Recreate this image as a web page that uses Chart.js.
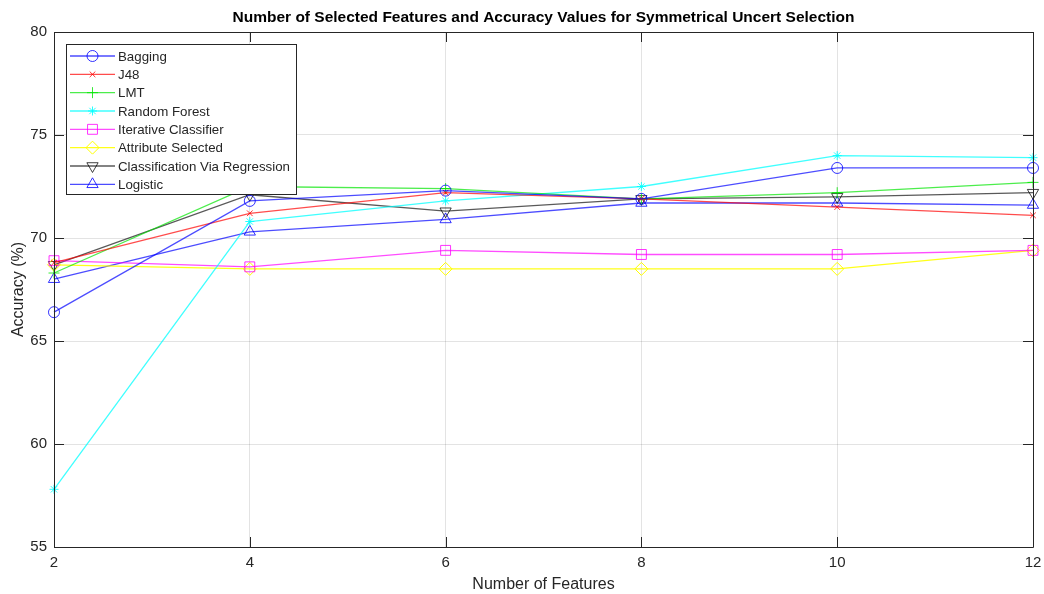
<!DOCTYPE html>
<html>
<head>
<meta charset="utf-8">
<script src="https://cdn.jsdelivr.net/npm/chart.js@4.4.1/dist/chart.umd.min.js"></script>
<style>
html,body{margin:0;padding:0;background:#fff;}
#wrap{width:1044px;height:594px;position:relative;}
</style>
</head>
<body>
<div id="wrap"><canvas id="c" width="1044" height="594"></canvas></div>
<script>
// ---- data ----
const features = [2, 4, 6, 8, 10, 12];
const xTicks = [2, 4, 6, 8, 10, 12];
const yTicks = [55, 60, 65, 70, 75, 80];
const bagging     = [66.4, 71.8, 72.3, 71.9, 73.4, 73.4];
const j48         = [68.8, 71.2, 72.2, 71.9, 71.5, 71.1];
const lmt         = [68.3, 72.5, 72.4, 71.9, 72.2, 72.7];
const randomForest= [57.8, 70.8, 71.8, 72.5, 74.0, 73.9];
const iterative   = [68.9, 68.6, 69.4, 69.2, 69.2, 69.4];
const attribute   = [68.7, 68.5, 68.5, 68.5, 68.5, 69.4];
const cvr         = [68.7, 72.1, 71.3, 71.9, 72.0, 72.2];
const logistic    = [68.0, 70.3, 70.9, 71.7, 71.7, 71.6];
const seriesLabels = ['Bagging','J48','LMT','Random Forest','Iterative Classifier','Attribute Selected','Classification Via Regression','Logistic'];
const titleText = 'Number of Selected Features and Accuracy Values for Symmetrical Uncert Selection';

// ---- styles ----
const styles = [
  {c:'0,0,255',   p:'circle',   r:5.5, rot:0, a:0.7},
  {c:'255,0,0',   p:'crossRot', r:4, rot:0, a:0.7},
  {c:'0,230,0',   p:'cross',    r:5.5, rot:0, a:0.7},
  {c:'0,255,255', p:'star',     r:4.5, rot:0, a:0.75},
  {c:'255,0,255', p:'rect',     r:7, rot:0, a:0.7},
  {c:'255,255,0', p:'rectRot',  r:6.5, rot:0, a:0.9},
  {c:'0,0,0',     p:'triangle', r:6.5, rot:180, a:0.65},
  {c:'0,0,255',   p:'triangle', r:6.5, rot:0, a:0.7}
];
const values = [bagging, j48, lmt, randomForest, iterative, attribute, cvr, logistic];

const FONT = '"Liberation Sans", Arial, Helvetica, sans-serif';
const datasets = values.map((v, i) => ({
  label: seriesLabels[i],
  data: features.map((x, k) => ({x: x, y: v[k]})),
  borderColor: 'rgba(' + styles[i].c + ',' + styles[i].a + ')',
  backgroundColor: 'rgba(0,0,0,0)',
  pointBorderColor: 'rgba(' + styles[i].c + ',' + Math.min(1, styles[i].a + 0.1) + ')',
  pointBackgroundColor: 'rgba(0,0,0,0)',
  pointStyle: styles[i].p,
  pointRadius: styles[i].r,
  pointRotation: styles[i].rot,
  pointBorderWidth: 1,
  borderWidth: 1.3,
  tension: 0,
  clip: false
}));

const decor = {
  id: 'decor',
  beforeDraw(chart) {
    const ctx = chart.ctx;
    ctx.save();
    ctx.fillStyle = '#fff';
    ctx.fillRect(0, 0, chart.width, chart.height);
    ctx.restore();
  },
  afterDatasetsDraw(chart) {
    const ctx = chart.ctx, a = chart.chartArea;
    const xs = chart.scales.x, ys = chart.scales.y;
    ctx.save();
    // box
    ctx.strokeStyle = '#262626';
    ctx.lineWidth = 1;
    ctx.beginPath();
    ctx.rect(Math.round(a.left) + 0.5, Math.round(a.top) + 0.5, Math.round(a.right - a.left), Math.round(a.bottom - a.top));
    ctx.stroke();
    // inward ticks
    const tl = 10;
    ctx.beginPath();
    xTicks.forEach(t => {
      const px = Math.round(xs.getPixelForValue(t)) + 0.5;
      ctx.moveTo(px, a.bottom); ctx.lineTo(px, a.bottom - tl);
      ctx.moveTo(px, a.top); ctx.lineTo(px, a.top + tl);
    });
    yTicks.forEach(t => {
      const py = Math.round(ys.getPixelForValue(t)) + 0.5;
      ctx.moveTo(a.left, py); ctx.lineTo(a.left + tl, py);
      ctx.moveTo(a.right, py); ctx.lineTo(a.right - tl, py);
    });
    ctx.stroke();

    // title
    ctx.fillStyle = '#000';
    ctx.font = 'bold 15.5px ' + FONT;
    ctx.textAlign = 'center';
    ctx.textBaseline = 'middle';
    ctx.fillText(titleText, (a.left + a.right) / 2, 18);

    // legend
    const lx = 66, ly = 44, lw = 230, lh = 150;
    ctx.fillStyle = '#fff';
    ctx.fillRect(lx, ly, lw, lh);
    ctx.strokeStyle = '#262626';
    ctx.lineWidth = 1;
    ctx.strokeRect(lx + 0.5, ly + 0.5, lw, lh);
    ctx.font = '13.3px ' + FONT;
    ctx.textAlign = 'left';
    chart.data.datasets.forEach((ds, i) => {
      const y = ly + 12 + i * 18.33;
      ctx.strokeStyle = ds.borderColor;
      ctx.lineWidth = 1.3;
      ctx.beginPath();
      ctx.moveTo(lx + 4, y); ctx.lineTo(lx + 49, y);
      ctx.stroke();
      ctx.strokeStyle = ds.pointBorderColor;
      ctx.fillStyle = 'rgba(0,0,0,0)';
      ctx.lineWidth = 1;
      Chart.helpers.drawPoint(ctx, {pointStyle: ds.pointStyle, rotation: ds.pointRotation, radius: ds.pointRadius, borderWidth: 1}, lx + 26.5, y);
      ctx.fillStyle = '#262626';
      ctx.fillText(ds.label, lx + 52, y + 1);
    });
    ctx.restore();
  }
};

new Chart(document.getElementById('c'), {
  type: 'line',
  data: { datasets: datasets },
  plugins: [decor],
  options: {
    responsive: false,
    animation: false,
    events: [],
    layout: { padding: { top: 32, right: 11, left: 0, bottom: 0 } },
    plugins: { legend: { display: false }, title: { display: false }, tooltip: { enabled: false } },
    scales: {
      x: {
        type: 'linear', min: 2, max: 12,
        afterBuildTicks(s) { s.ticks = xTicks.map(v => ({value: v})); },
        afterFit(s) { s.height = 47; s.paddingRight = 0; s.paddingLeft = 0; },
        grid: { color: 'rgba(0,0,0,0.11)', drawTicks: false },
        border: { display: false },
        ticks: { color: '#262626', font: { family: FONT, size: 15 }, padding: 7, maxRotation: 0 },
        title: { display: true, text: 'Number of Features', color: '#262626', font: { family: FONT, size: 16 }, padding: { top: 2, bottom: 0 } }
      },
      y: {
        type: 'linear', min: 55, max: 80,
        afterBuildTicks(s) { s.ticks = yTicks.map(v => ({value: v})); },
        afterFit(s) { s.width = 54; s.paddingTop = 0; s.paddingBottom = 0; },
        grid: { color: 'rgba(0,0,0,0.11)', drawTicks: false },
        border: { display: false },
        ticks: { color: '#262626', font: { family: FONT, size: 15 }, padding: 7 },
        title: { display: true, text: 'Accuracy (%)', color: '#262626', font: { family: FONT, size: 16 }, padding: { top: 9, bottom: 0 } }
      }
    }
  }
});
</script>
</body>
</html>
